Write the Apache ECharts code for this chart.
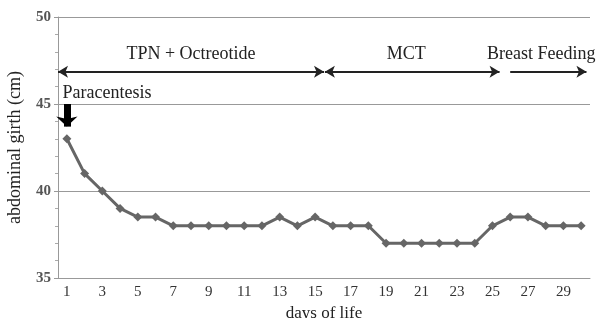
<!DOCTYPE html>
<html>
<head>
<meta charset="utf-8">
<script src="https://cdn.jsdelivr.net/npm/echarts@6/dist/echarts.min.js"></script>
<style>
  html, body { margin: 0; padding: 0; background: #fff; }
  #chart { width: 600px; height: 318px; }
</style>
</head>
<body>
<div id="chart"></div>
<script>
const days = Array.from({ length: 30 }, (_, i) => String(i + 1))
const girth = [43, 41, 40, 39, 38.5, 38.5, 38, 38, 38, 38, 38, 38, 38.5, 38, 38.5,
  38, 38, 38, 37, 37, 37, 37, 37, 37, 38, 38.5, 38.5, 38, 38, 38]

// feeding periods, in day units on the hidden helper axis
const periodNames = ['TPN + Octreotide', 'MCT', 'Breast Feeding']
const periodStart = [0.5, 15.55, 26.0]
const periodEnd = [15.5, 25.4, 30.3]
const periodLevel = 46.85

const serif = '"Liberation Serif", "DejaVu Serif", serif'

const chart = echarts.init(document.getElementById('chart'))

const labelShift = [0, -6, -7]
const periodLines = periodNames.map((name, i) => [
  {
    coord: [periodStart[i], periodLevel],
    symbol: i === 2 ? 'none' : 'arrow',
    label: { formatter: name, offset: [labelShift[i], 0] }
  },
  { coord: [periodEnd[i], periodLevel], symbol: 'arrow' }
])

chart.setOption({
  animation: false,
  grid: { left: 58, right: 10, top: 17, bottom: 40, outerBoundsMode: 'none', containLabel: false },
  xAxis: [
    {
      type: 'category',
      data: days,
      name: 'days of life',
      nameLocation: 'middle',
      nameGap: 25,
      nameTextStyle: { fontFamily: serif, fontSize: 17, color: '#222' },
      axisLine: { lineStyle: { color: '#999' } },
      axisTick: { alignWithLabel: true, interval: 0, length: 3, lineStyle: { color: '#999' } },
      axisLabel: { interval: 1, fontFamily: serif, fontSize: 15, color: '#333', margin: 7 }
    },
    {
      type: 'value',
      min: 0.5,
      max: 30.5,
      show: false
    }
  ],
  yAxis: {
    type: 'value',
    min: 35,
    max: 50,
    interval: 5,
    name: 'abdominal girth (cm)',
    nameLocation: 'middle',
    nameGap: 34,
    nameTextStyle: { fontFamily: serif, fontSize: 18, color: '#222' },
    axisLine: { show: true, lineStyle: { color: '#999' } },
    axisTick: { show: true, length: 4, lineStyle: { color: '#999' } },
    minorTick: { show: true, splitNumber: 5, length: 3, lineStyle: { color: '#aaa' } },
    splitLine: { lineStyle: { color: '#999', width: 1 } },
    axisLabel: { fontFamily: serif, fontSize: 15, color: '#555', fontWeight: 'bold', margin: 7 }
  },
  series: [
    {
      type: 'line',
      data: girth,
      symbol: 'diamond',
      symbolSize: 9,
      lineStyle: { color: '#666', width: 3 },
      itemStyle: { color: '#666' }
    },
    {
      type: 'line',
      xAxisIndex: 1,
      data: [],
      markLine: {
        silent: true,
        symbolSize: [9, 10],
        lineStyle: { color: '#222', width: 2, type: 'solid' },
        label: {
          position: 'insideMiddleTop',
          distance: 9,
          fontFamily: serif,
          fontSize: 18,
          color: '#222'
        },
        data: periodLines
      }
    },
    {
      type: 'line',
      xAxisIndex: 1,
      data: [],
      markLine: {
        silent: true,
        symbol: ['none', 'arrow'],
        symbolSize: [16, 10],
        lineStyle: { color: '#000', width: 7, type: 'solid' },
        label: { show: false },
        data: [[{ coord: [1, 45] }, { coord: [1, 43.7] }]]
      }
    },
    {
      type: 'scatter',
      xAxisIndex: 1,
      data: [[0.75, 45.6]],
      symbolSize: 0,
      itemStyle: { opacity: 1 },
      label: {
        show: true,
        position: 'right',
        distance: 0,
        formatter: 'Paracentesis',
        fontFamily: serif,
        fontSize: 18,
        color: '#222'
      }
    }
  ]
})
</script>
</body>
</html>
